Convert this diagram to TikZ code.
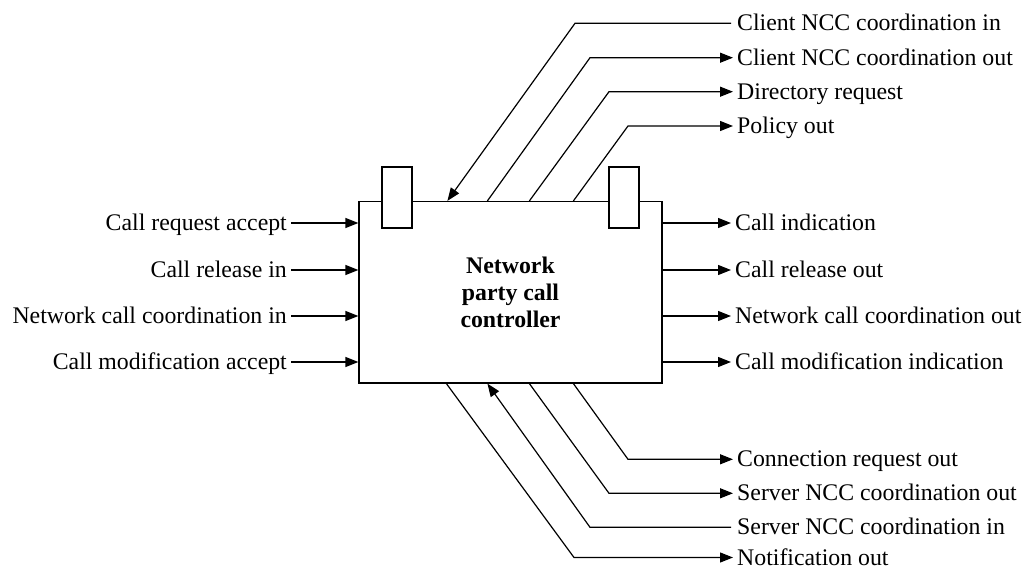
\documentclass[tikz,border=0pt]{standalone}
\usepackage{fontspec}
\setmainfont{Liberation Serif}
\usetikzlibrary{arrows.meta,positioning}
\tikzset{
  sig/.style={line width=1.2pt},
  arr/.style={sig,-{Triangle[length=13pt,width=10pt]}},
  lbl/.style={font=\fontsize{23.8}{27}\selectfont,inner xsep=4pt,inner ysep=0pt,
    text height=15pt,text depth=0pt},
  ctrl/.style={draw,sig,minimum width=303pt,minimum height=181.5pt,inner sep=0pt,
    align=center,font=\bfseries\fontsize{23.8}{27}\selectfont},
  tabbox/.style={draw,sig,fill=white,minimum width=30pt,minimum height=61pt,inner sep=0pt}
}
\begin{document}
\begin{tikzpicture}[x=1pt,y=-1pt]
    \useasboundingbox (0,0) rectangle (1030,569);
    % controller and its two tabs
    \node[ctrl] (ncc) at (510.5,292.25) {Network\\party call\\controller};
    \node[tabbox] (tabL) at (397,197.5) {};
    \node[tabbox] (tabR) at (624,197.5) {};

    % left side
    \node[lbl,anchor=east] (reqacc) at (291,223) {Call request accept};
    \node[lbl,anchor=east] (relin) at (291,270) {Call release in};
    \node[lbl,anchor=east] (netin) at (291,316) {Network call coordination in};
    \node[lbl,anchor=east] (modacc) at (291,362) {Call modification accept};
    \draw[arr] (reqacc.east) -- (reqacc.east -| ncc.west);
    \draw[arr] (relin.east) -- (relin.east -| ncc.west);
    \draw[arr] (netin.east) -- (netin.east -| ncc.west);
    \draw[arr] (modacc.east) -- (modacc.east -| ncc.west);

    % right side
    \node[lbl,anchor=west] (callind) at (731,223) {Call indication};
    \node[lbl,anchor=west] (relout) at (731,270) {Call release out};
    \node[lbl,anchor=west] (netout) at (731,316) {Network call coordination out};
    \node[lbl,anchor=west] (modind) at (731,362) {Call modification indication};
    \draw[arr] (callind.west -| ncc.east) -- (callind.west);
    \draw[arr] (relout.west -| ncc.east) -- (relout.west);
    \draw[arr] (netout.west -| ncc.east) -- (netout.west);
    \draw[arr] (modind.west -| ncc.east) -- (modind.west);

    % top
    \node[lbl,anchor=west] (cliin) at (733,23.3) {Client NCC coordination in};
    \node[lbl,anchor=west] (cliout) at (733,57.7) {Client NCC coordination out};
    \node[lbl,anchor=west] (dirreq) at (733,91.7) {Directory request};
    \node[lbl,anchor=west] (polout) at (733,126) {Policy out};
    \draw[arr] ([xshift=-2pt]cliin.west) -- (575,23.3) -- ([xshift=89pt]ncc.north west);
    \draw[arr] ([xshift=129pt]ncc.north west) -- (590,57.7) -- (cliout.west);
    \draw[arr] ([xshift=171pt]ncc.north west) -- (609,91.7) -- (dirreq.west);
    \draw[arr] ([xshift=215pt]ncc.north west) -- (628,126) -- (polout.west);

    % bottom
    \node[lbl,anchor=west] (conout) at (733,459.3) {Connection request out};
    \node[lbl,anchor=west] (srvout) at (733,493.3) {Server NCC coordination out};
    \node[lbl,anchor=west] (srvin) at (733,527.3) {Server NCC coordination in};
    \node[lbl,anchor=west] (notout) at (733,557.5) {Notification out};
    \draw[arr] ([xshift=215pt]ncc.south west) -- (628,459.3) -- (conout.west);
    \draw[arr] ([xshift=171pt]ncc.south west) -- (609,493.3) -- (srvout.west);
    \draw[arr] ([xshift=-2pt]srvin.west) -- (590,527.3) -- ([xshift=129pt]ncc.south west);
    \draw[arr] ([xshift=88pt]ncc.south west) -- (574,557.5) -- (notout.west);
\end{tikzpicture}
\end{document}
